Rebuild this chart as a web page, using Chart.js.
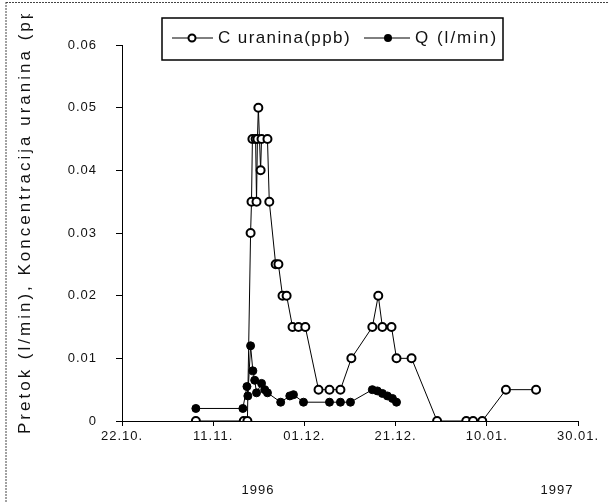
<!DOCTYPE html>
<html>
<head>
<meta charset="utf-8">
<script src="https://cdn.jsdelivr.net/npm/chart.js@4/dist/chart.umd.min.js"></script>
<style>
    html, body { margin: 0; padding: 0; background: #fff; }
    #chart { display: block; }
</style>
</head>
<body>
<canvas id="chart" width="608" height="503"></canvas>
<script>
// x values are days counted from 22.10.1996
const tickDays = [0, 20, 40, 60, 80, 100];
const tickLabels = ['22.10.', '11.11.', '01.12.', '21.12.', '10.01.', '30.01.'];
const yearLabels = ['1996', '1997'];
const yTitle = 'Pretok (l/min), Koncentracija uranina (ppb)';

const cDays = [16.2, 26.7, 27.5, 28.2, 28.4, 28.6, 29.3, 29.5, 29.7, 29.9, 30.4, 30.6, 31.9, 32.3, 33.7, 34.3,
    35.2, 36.1, 37.4, 38.7, 40.2, 43.1, 45.5, 47.9, 50.3, 54.9, 56.2, 57.1, 59.1, 60.2, 63.5, 69.1,
    75.5, 77.0, 79.0, 84.2, 90.8];
const cValues = [0, 0, 0, 0.03, 0.035, 0.045, 0.045, 0.035, 0.045, 0.05, 0.04, 0.045, 0.045, 0.035, 0.025, 0.025,
    0.02, 0.02, 0.015, 0.015, 0.015, 0.005, 0.005, 0.005, 0.01, 0.015, 0.02, 0.015, 0.015, 0.01, 0.01, 0,
    0, 0, 0, 0.005, 0.005];

const qDays = [16.2, 26.5, 27.4, 27.6, 28.2, 28.7, 29.1, 29.5, 30.6, 31.3, 31.9, 34.8, 36.8, 37.6, 39.8,
    45.5, 47.9, 50.1, 54.9, 56.0, 57.1, 58.2, 59.3, 60.2];
const qValues = [0.002, 0.002, 0.0055, 0.004, 0.012, 0.008, 0.0065, 0.0045, 0.006, 0.005, 0.0045, 0.003, 0.004, 0.0042, 0.003,
    0.003, 0.003, 0.003, 0.005, 0.0048, 0.0044, 0.004, 0.0036, 0.003];

function toPoints(days, values) {
    return days.map((d, i) => ({ x: d, y: values[i] }));
}

const FONT = "'Liberation Sans', Arial, sans-serif";

// the scan has widely spaced letters everywhere
const spacing = {
    id: 'spacing',
    beforeDraw(chart) {
        if ('letterSpacing' in chart.ctx) chart.ctx.letterSpacing = '1px';
    }
};

// frame, rotated axis title, year labels and boxed legend
const decorations = {
    id: 'decorations',
    afterDraw(chart) {
        const ctx = chart.ctx;
        const hasLS = 'letterSpacing' in ctx;
        ctx.save();

        // scanned page border
        ctx.strokeStyle = '#444';
        ctx.lineWidth = 1;
        ctx.setLineDash([2, 1]);
        ctx.beginPath();
        ctx.moveTo(6, 2);
        ctx.lineTo(6, 503);
        ctx.moveTo(6, 2.5);
        ctx.lineTo(608, 2.5);
        ctx.stroke();
        ctx.setLineDash([]);

        // y title, clipped at the top like the original
        ctx.save();
        ctx.beginPath();
        ctx.rect(0, 14, 608, 489);
        ctx.clip();
        ctx.translate(25, 434);
        ctx.rotate(-Math.PI / 2);
        ctx.fillStyle = '#111';
        ctx.font = '17px ' + FONT;
        if (hasLS) ctx.letterSpacing = '3px';
        ctx.textAlign = 'left';
        ctx.textBaseline = 'middle';
        ctx.fillText(yTitle, 0, 0);
        ctx.restore();

        // years under the date ticks
        if (hasLS) ctx.letterSpacing = '1px';
        ctx.fillStyle = '#111';
        ctx.font = '13px ' + FONT;
        ctx.textAlign = 'center';
        ctx.textBaseline = 'middle';
        ctx.fillText(yearLabels[0], 258, 490);
        ctx.fillText(yearLabels[1], 557, 490);

        // legend box
        ctx.strokeStyle = '#000';
        ctx.lineWidth = 1.5;
        ctx.strokeRect(162, 18, 341, 42);

        const ly = 38;
        ctx.lineWidth = 1;
        ctx.beginPath();
        ctx.moveTo(172, ly);
        ctx.lineTo(213, ly);
        ctx.moveTo(364, ly);
        ctx.lineTo(410, ly);
        ctx.stroke();

        ctx.lineWidth = 2;
        ctx.fillStyle = '#fff';
        ctx.beginPath();
        ctx.arc(192, ly, 3.5, 0, Math.PI * 2);
        ctx.fill();
        ctx.stroke();
        ctx.fillStyle = '#000';
        ctx.beginPath();
        ctx.arc(388, ly, 4, 0, Math.PI * 2);
        ctx.fill();

        ctx.fillStyle = '#111';
        ctx.font = '17px ' + FONT;
        if (hasLS) ctx.letterSpacing = '1.4px';
        ctx.textAlign = 'left';
        ctx.fillText('C uranina(ppb)', 218, ly);
        if (hasLS) ctx.letterSpacing = '2px';
        ctx.fillText('Q (l/min)', 415, ly);

        ctx.restore();
    }
};

new Chart(document.getElementById('chart'), {
    type: 'line',
    data: {
        datasets: [
            {
                label: 'C uranina(ppb)',
                data: toPoints(cDays, cValues),
                borderColor: '#000',
                borderWidth: 1,
                pointRadius: 4,
                pointBorderWidth: 2,
                pointBackgroundColor: '#fff',
                pointBorderColor: '#000',
                tension: 0
            },
            {
                label: 'Q (l/min)',
                data: toPoints(qDays, qValues),
                borderColor: '#000',
                borderWidth: 1,
                pointRadius: 4,
                pointBorderWidth: 1,
                pointBackgroundColor: '#000',
                pointBorderColor: '#000',
                tension: 0
            }
        ]
    },
    options: {
        responsive: false,
        animation: false,
        layout: { padding: { left: 0, right: 30, top: 45, bottom: 0 } },
        plugins: {
            legend: { display: false },
            tooltip: { enabled: false }
        },
        scales: {
            x: {
                type: 'linear',
                min: 0,
                max: 100,
                afterBuildTicks: (scale) => { scale.ticks = tickDays.map(v => ({ value: v })); },
                afterFit: (scale) => { scale.height = 82; },
                grid: { drawOnChartArea: false, drawTicks: true, tickLength: 5, color: '#000' },
                border: { color: '#000', width: 1 },
                ticks: {
                    color: '#111',
                    font: { family: FONT, size: 13 },
                    padding: 3,
                    maxRotation: 0,
                    callback: (v) => tickLabels[tickDays.indexOf(v)]
                }
            },
            y: {
                min: 0,
                max: 0.06,
                afterFit: (scale) => { scale.width = 122; },
                grid: { drawOnChartArea: false, drawTicks: true, tickLength: 6, color: '#000' },
                border: { color: '#000', width: 1 },
                ticks: {
                    stepSize: 0.01,
                    color: '#111',
                    font: { family: FONT, size: 13 },
                    padding: 19,
                    callback: (v) => v === 0 ? '0' : v.toFixed(2)
                }
            }
        }
    },
    plugins: [spacing, decorations]
});
</script>
</body>
</html>
